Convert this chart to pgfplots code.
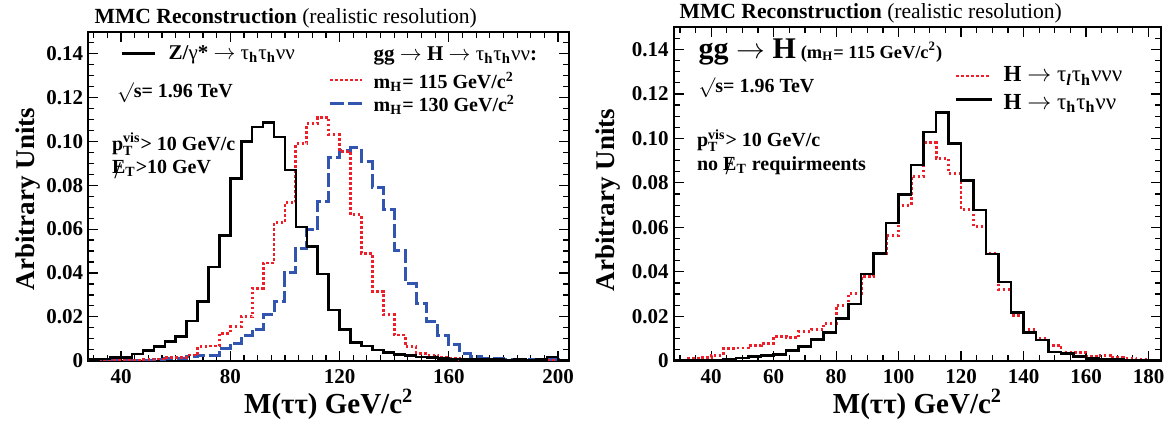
\documentclass[border=0pt]{standalone}
\usepackage{amsmath}
\usepackage{fontspec}
\setmainfont{Liberation Serif}
\usepackage{pgfplots}
\pgfplotsset{compat=1.18}

\definecolor{hred}{RGB}{240,30,40}
\definecolor{hblue}{RGB}{50,85,175}

\newcommand{\lo}[1]{\ensuremath{_{\text{\bfseries #1}}}}
\newcommand{\slo}[1]{\smash{\ensuremath{_{\text{\bfseries #1}}}}}
\newcommand{\hilo}[2]{\smash{\ensuremath{^{\text{\bfseries #1}}_{\text{\bfseries #2}}}}}
\newcommand{\sq}[1]{\ensuremath{^{\text{\bfseries #1}}}}
\newcommand{\tu}{{\mdseries τ}}
\newcommand{\nuu}{{\mdseries ν}}
\newcommand{\arr}{\ensuremath{\rightarrow}}
\newcommand{\Emis}{\rlap{\hspace{0.12em}\smash{\raisebox{-0.45ex}{\mdseries\large /}}}E}

\pgfplotsset{
  histax/.style={
    scale only axis,
    ymin=0, ymax=0.15,
    ytick={0,0.02,0.04,0.06,0.08,0.1,0.12,0.14},
    yticklabels={0,0.02,0.04,0.06,0.08,0.10,0.12,0.14},
    minor ytick={0.005,0.01,0.015,0.025,0.03,0.035,0.045,0.05,0.055,0.065,0.07,0.075,0.085,0.09,0.095,0.105,0.11,0.115,0.125,0.13,0.135,0.145},
    tick align=inside,
    xtick pos=both, ytick pos=both,
    major tick length=5pt, minor tick length=3pt,
    every tick/.style={black, line width=0.6pt},
    axis line style={black, line width=0.9pt},
    ticklabel style={font=\fontsize{10.5}{12}\selectfont\bfseries},
    yticklabel style={xshift=1pt},
    xticklabel style={yshift=-1pt},
    clip=true,
  },
  hblack/.style={const plot, black, line width=1.25pt, no marks},
  hreddot/.style={const plot, hred, line width=1.4pt, no marks, dash pattern=on 1.3pt off 1.2pt},
  hbluedash/.style={const plot, hblue, line width=1.5pt, no marks, dash pattern=on 7pt off 2pt},
}

\begin{document}
\begin{tikzpicture}
\useasboundingbox (0,0) rectangle (586.5pt,212pt);

% ---------------- left panel ----------------
\begin{axis}[histax,
  at={(44.15pt,31.65pt)}, anchor=south west,
  width=240.35pt, height=164.5pt,
  xmin=28, xmax=204,
  xtick={40,80,120,160,200}, xticklabels={40,80,120,160,200},
  minor xtick={30,35,...,200},
]
\addplot[hbluedash] coordinates {
(28,0.0002)(32,0.0002)(36,0.0002)(40,0.0002)(44,0.0002)(48,0.0002)(52,0.0004)(56,0.0009)
(60,0.001)(64,0.0018)(68,0.0026)(72,0.0026)(76,0.0056)(80,0.0079)(84,0.0113)(88,0.0143)
(92,0.0209)(96,0.027)(100,0.040)(104,0.0513)(108,0.0597)(112,0.0727)(116,0.0925)(120,0.096)
(124,0.097)(128,0.091)(132,0.079)(136,0.0689)(140,0.0503)(144,0.0353)(148,0.0262)(152,0.0178)
(156,0.0113)(160,0.0072)(164,0.0034)(168,0.0018)(172,0.001)(176,0.0008)(180,0.0007)(184,0.0006)
(188,0.0005)(192,0.0004)(196,0.0004)(200,0.0003)(204,0.0003)};
\addplot[hreddot] coordinates {
(28,0.0002)(32,0.0002)(36,0.0002)(40,0.0003)(44,0.0003)(48,0.0004)(52,0.0008)(56,0.0015)
(60,0.0015)(64,0.0026)(68,0.0064)(72,0.0067)(76,0.0125)(80,0.0155)(84,0.020)(88,0.033)
(92,0.0445)(96,0.063)(100,0.072)(104,0.099)(108,0.108)(112,0.111)(116,0.103)(120,0.0955)
(124,0.0666)(128,0.049)(132,0.0315)(136,0.0209)(140,0.0117)(144,0.0064)(148,0.0034)(152,0.0026)
(156,0.0015)(160,0.001)(164,0.0006)(168,0.0003)(172,0.0003)(176,0.0002)(180,0.0002)(184,0.0002)
(188,0.0002)(192,0.0002)(196,0.0002)(200,0.0002)(204,0.0002)};
\addplot[hblack] coordinates {
(28,0.0005)(32,0.0007)(36,0.0015)(40,0.0015)(44,0.003)(48,0.0046)(52,0.0064)(56,0.0087)
(60,0.011)(64,0.018)(68,0.027)(72,0.0427)(76,0.057)(80,0.083)(84,0.100)(88,0.1065)
(92,0.1085)(96,0.102)(100,0.087)(104,0.061)(108,0.052)(112,0.0396)(116,0.0232)(120,0.0143)
(124,0.0082)(128,0.0067)(132,0.0049)(136,0.0038)(140,0.0029)(144,0.0023)(148,0.0018)(152,0.0015)
(156,0.001)(160,0.0008)(164,0.0006)(168,0.0005)(172,0.0005)(176,0.0005)(180,0.0004)(184,0.0005)
(188,0.0004)(192,0.0006)(196,0.0018)(200,0.0004)(204,0.0004)};
\end{axis}

% ---------------- right panel ----------------
\begin{axis}[histax,
  at={(336.85pt,31.65pt)}, anchor=south west,
  width=243.65pt, height=166.7pt,
  xmin=28, xmax=184,
  xtick={40,60,80,100,120,140,160,180}, xticklabels={40,60,80,100,120,140,160,180},
  minor xtick={30,35,...,180},
]
\addplot[hreddot] coordinates {
(28,0.0003)(32,0.001)(36,0.0015)(40,0.0025)(44,0.0055)(48,0.0057)(52,0.0067)(56,0.0078)
(60,0.0108)(64,0.0103)(68,0.0133)(72,0.0142)(76,0.0168)(80,0.025)(84,0.0303)(88,0.0378)
(92,0.0483)(96,0.0565)(100,0.070)(104,0.083)(108,0.098)(112,0.091)(116,0.0843)(120,0.068)
(124,0.0603)(128,0.0483)(132,0.0321)(136,0.0205)(140,0.0141)(144,0.010)(148,0.007)(152,0.0036)
(156,0.0037)(160,0.0018)(164,0.0024)(168,0.0013)(172,0.001)(176,0.0005)(180,0.0003)(184,0.0003)};
\addplot[hblack] coordinates {
(28,0.0002)(32,0.0002)(36,0.0002)(40,0.0003)(44,0.0006)(48,0.0013)(52,0.002)(56,0.0024)
(60,0.0027)(64,0.0045)(68,0.0063)(72,0.0096)(76,0.0126)(80,0.019)(84,0.0255)(88,0.039)
(92,0.0483)(96,0.062)(100,0.0748)(104,0.088)(108,0.103)(112,0.1117)(116,0.0977)(120,0.081)
(124,0.0678)(128,0.048)(132,0.0355)(136,0.0217)(140,0.0127)(144,0.0093)(148,0.004)(152,0.0033)
(156,0.0018)(160,0.0009)(164,0.0006)(168,0.0005)(172,0.0004)(176,0.0003)(180,0.0003)(184,0.0003)};
\end{axis}

% ---------------- texts: left ----------------
\node[anchor=base west, inner sep=0] at (47.15pt,200.35pt)
  {\fontsize{10.8}{12}\selectfont\textbf{MMC Reconstruction} (realistic resolution)};
\draw[black, line width=1.25pt] (60.85pt,185.35pt) -- (77.5pt,185.35pt);
\node[anchor=base west, inner sep=0] at (84.15pt,182.35pt)
  {\fontsize{10.5}{12}\selectfont\bfseries Z/{\mdseries γ}* \arr\ \tu\slo{h}\tu\slo{h}\nuu\nuu};
\node[anchor=base west, inner sep=0] at (186.65pt,182pt)
  {\fontsize{10.5}{12}\selectfont\bfseries gg \arr\ H \arr\ \tu\slo{h}\tu\slo{h}\nuu\nuu:};
\draw[hred, line width=1.4pt, dash pattern=on 1.3pt off 1.2pt] (165pt,172pt) -- (181pt,172pt);
\node[anchor=base west, inner sep=0] at (186.65pt,167.85pt)
  {\fontsize{10}{12}\selectfont\bfseries m\slo{H}= 115 GeV/c\sq{2}};
\draw[hblue, line width=1.5pt, dash pattern=on 7pt off 2pt] (165pt,160pt) -- (182.5pt,160pt);
\node[anchor=base west, inner sep=0] at (186.65pt,156.15pt)
  {\fontsize{10}{12}\selectfont\bfseries m\slo{H}= 130 GeV/c\sq{2}};
\node[anchor=base west, inner sep=0] at (58.35pt,163.35pt)
  {\fontsize{10}{12}\selectfont\bfseries \ensuremath{\surd}s= 1.96 TeV};
\node[anchor=base west, inner sep=0] at (55.85pt,137pt)
  {\fontsize{10}{12}\selectfont\bfseries p\hilo{vis}{T}> 10 GeV/c};
\node[anchor=base west, inner sep=0] at (55.85pt,125pt)
  {\fontsize{10}{12}\selectfont\bfseries \Emis\slo{T}>10 GeV};

% ---------------- texts: right ----------------
\node[anchor=base west, inner sep=0] at (339.65pt,202.85pt)
  {\fontsize{10.8}{12}\selectfont\textbf{MMC Reconstruction} (realistic resolution)};
\node[anchor=base west, inner sep=0] at (349.15pt,182.85pt)
  {\bfseries{\fontsize{15}{16}\selectfont gg \arr\ H} {\fontsize{9.2}{11}\selectfont(m\slo{H}= 115 GeV/c\sq{2})}};
\node[anchor=base west, inner sep=0] at (349.15pt,165.65pt)
  {\fontsize{10}{12}\selectfont\bfseries \ensuremath{\surd}s= 1.96 TeV};
\draw[hred, line width=1.4pt, dash pattern=on 1.3pt off 1.2pt] (478pt,174pt) -- (495pt,174pt);
\node[anchor=base west, inner sep=0] at (501.65pt,171.15pt)
  {\fontsize{11.5}{13}\selectfont\bfseries H \arr\ \tu\slo{\itshape l}\tu\slo{h}\nuu\nuu\nuu};
\draw[black, line width=1.25pt] (478pt,162.35pt) -- (495.85pt,162.35pt);
\node[anchor=base west, inner sep=0] at (501.65pt,157.35pt)
  {\fontsize{11.5}{13}\selectfont\bfseries H \arr\ \tu\slo{h}\tu\slo{h}\nuu\nuu};
\node[anchor=base west, inner sep=0] at (348.35pt,138.65pt)
  {\fontsize{10}{12}\selectfont\bfseries p\hilo{vis}{T}> 10 GeV/c};
\node[anchor=base west, inner sep=0] at (348.35pt,126.65pt)
  {\fontsize{10}{12}\selectfont\bfseries no \Emis\slo{T} requirmeents};

% ---------------- axis titles ----------------
\node[rotate=90, anchor=center] at (14pt,112.5pt)
  {\fontsize{13.5}{15}\selectfont\bfseries Arbitrary Units};
\node[rotate=90, anchor=center] at (304pt,112pt)
  {\fontsize{13.5}{15}\selectfont\bfseries Arbitrary Units};
\node[anchor=base] at (164.35pt,5.5pt)
  {\fontsize{14.5}{16}\selectfont\bfseries M(ττ) GeV/c\sq{2}};
\node[anchor=base] at (458.75pt,5.5pt)
  {\fontsize{14.5}{16}\selectfont\bfseries M(ττ) GeV/c\sq{2}};
\end{tikzpicture}
\end{document}
